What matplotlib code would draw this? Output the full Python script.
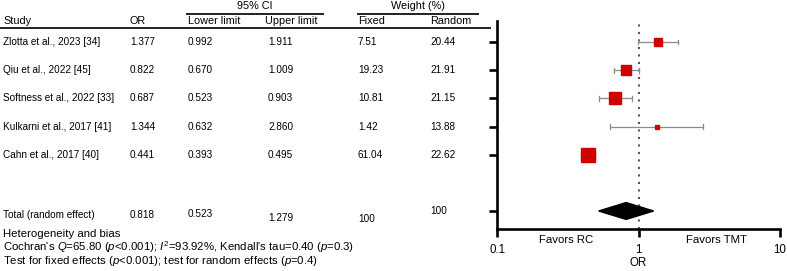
import numpy as np
import matplotlib.pyplot as plt
import matplotlib.transforms as mtransforms

plt.rcParams['font.family'] = ['Liberation Sans', 'DejaVu Sans']
plt.rcParams['mathtext.fontset'] = 'custom'
plt.rcParams['mathtext.rm'] = 'Liberation Sans'
plt.rcParams['mathtext.it'] = 'Liberation Sans:italic'

# study data
studies = ['Zlotta et al., 2023 [34]', 'Qiu et al., 2022 [45]', 'Softness et al., 2022 [33]',
           'Kulkarni et al., 2017 [41]', 'Cahn et al., 2017 [40]']
odds = [1.377, 0.822, 0.687, 1.344, 0.441]
lower = [0.992, 0.670, 0.523, 0.632, 0.393]
upper = [1.911, 1.009, 0.903, 2.860, 0.495]
w_fixed = ['7.51', '19.23', '10.81', '1.42', '61.04']
w_random = ['20.44', '21.91', '21.15', '13.88', '22.62']

# pooled (random effect)
total_or = 0.818
total_lo = 0.523
total_hi = 1.279

# marker sizes (points)
msizes = [5.3, 7.2, 8.0, 3.1, 10.0]

W, H = 787, 271
fig = plt.figure(figsize=(W / 100, H / 100), dpi=100)
ax = fig.add_axes([497 / W, 1 - 229 / H, 283 / W, 208 / H])

rows = np.arange(len(studies))
total_row = len(studies) + 1

# CI whiskers
for y, lo, hi in zip(rows, lower, upper):
    ax.plot([lo, hi], [y, y], color='#8c8c8c', lw=0.9, zorder=2)
    ax.plot([lo, lo], [y - 0.08, y + 0.08], color='#8c8c8c', lw=0.9, zorder=2)
    ax.plot([hi, hi], [y - 0.08, y + 0.08], color='#8c8c8c', lw=0.9, zorder=2)

# boxes
for y, o, ms in zip(rows, odds, msizes):
    ax.plot([o], [y], marker='s', ms=ms, color='#d00000', mec='#d00000', zorder=3)

# diamond for total
ax.fill([total_lo, total_or, total_hi, total_or],
        [total_row, total_row - 0.3, total_row, total_row + 0.3],
        color='black', zorder=3)

# line of no effect
ax.axvline(1, color='#555555', lw=1.5, linestyle=(0, (1, 2.6)), zorder=1)

ax.set_xscale('log')
ax.set_xlim(0.1, 10)
ax.set_ylim(total_row + 0.64, -0.75)
ax.set_xticks([0.1, 1, 10])
ax.set_xticklabels(['0.1', '1', '10'])
ax.xaxis.set_minor_locator(plt.NullLocator())
ax.set_yticks(list(rows) + [total_row])
ax.set_yticklabels([])
for s in ['top', 'right']:
    ax.spines[s].set_visible(False)
for s in ['left', 'bottom']:
    ax.spines[s].set_linewidth(1.9)
ax.tick_params(axis='both', direction='out', length=6, width=1.9, labelsize=8.3)
ax.tick_params(axis='x', pad=4.5)
ax.set_xlabel('OR', fontsize=8.3, labelpad=1)

fb = mtransforms.blended_transform_factory(ax.transAxes, fig.transFigure)
ax.text(0.244, 1 - 240 / H, 'Favors RC', transform=fb, ha='center', va='center', fontsize=8.2)
ax.text(0.777, 1 - 240 / H, 'Favors TMT', transform=fb, ha='center', va='center', fontsize=8.2)

# table on the left
fs = 7.2
hfs = 7.8
def ftext(x, y, s, size=hfs, **kw):
    fig.text(x / W, 1 - y / H, s, fontsize=size, va='center', **kw)

ftext(255, 6, '95% CI', ha='center')
ftext(418, 6, 'Weight (%)', ha='center')
ftext(3, 21, 'Study')
ftext(130, 21, 'OR')
ftext(188, 21, 'Lower limit')
ftext(265, 21, 'Upper limit')
ftext(358, 21, 'Fixed')
ftext(430, 21, 'Random')

for x0, x1, y in [(187, 323, 13.5), (358, 478, 13.5), (0, 490, 28)]:
    fig.add_artist(plt.Line2D([x0 / W, x1 / W], [1 - y / H, 1 - y / H],
                              transform=fig.transFigure, color='#222222', lw=1.4))

tr = mtransforms.blended_transform_factory(fig.transFigure, ax.transData)
cols = [studies, ['%.3f' % v for v in odds], ['%.3f' % v for v in lower],
        ['%.3f' % v for v in upper], w_fixed, w_random]
col_x = [3, 130, 188, 268, 358, 430]
for cx, vals in zip(col_x, cols):
    for y, v in zip(rows, vals):
        fig.text(cx / W, y, v, transform=tr, fontsize=fs, va='center')

total_vals = ['Total (random effect)', '%.3f' % total_or, '%.3f' % total_lo, '%.3f' % total_hi, '100', '100']
total_dy = [0.15, 0.15, 0.12, 0.25, 0.28, 0.0]
for cx, v, dy in zip(col_x, total_vals, total_dy):
    fig.text(cx / W, total_row + dy, v, transform=tr, fontsize=fs, va='center')

ftext(3, 234, 'Heterogeneity and bias', size=8.2)
ftext(3, 247, "Cochran's $Q$=65.80 ($p$<0.001); $I^2$=93.92%, Kendall's tau=0.40 ($p$=0.3)", size=8.2)
ftext(3, 261, 'Test for fixed effects ($p$<0.001); test for random effects ($p$=0.4)', size=8.2)

fig.savefig('out.png', dpi=100)
